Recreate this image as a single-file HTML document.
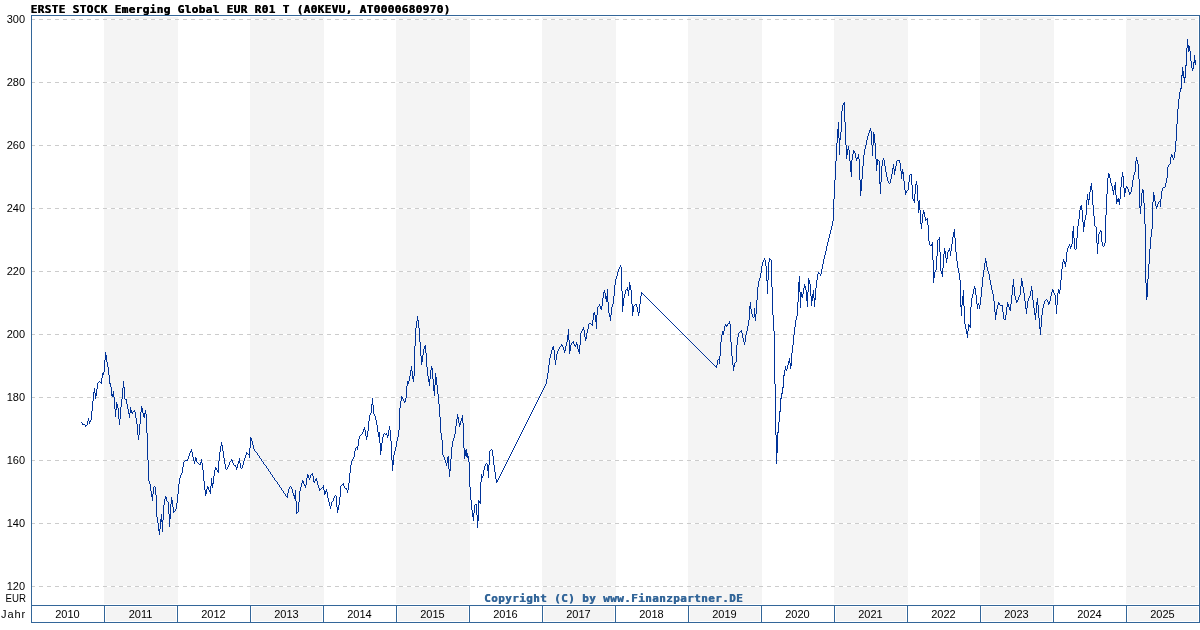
<!DOCTYPE html>
<html lang="de">
<head>
<meta charset="utf-8">
<title>ERSTE STOCK Emerging Global EUR R01 T (A0KEVU, AT0000680970)</title>
<style>
html,body{margin:0;padding:0;background:#fff;}
body{width:1200px;height:630px;overflow:hidden;position:relative;}
svg{position:absolute;left:0;top:0;display:block;}
.t{position:absolute;margin:0;white-space:pre;font-family:"DejaVu Sans Mono","Liberation Mono",monospace;font-weight:bold;font-size:11px;line-height:14px;height:14px;letter-spacing:0.3774px;text-shadow:0.4px 0 0 currentColor;}
.a{position:absolute;margin:0;white-space:pre;font-family:"Liberation Sans","DejaVu Sans",sans-serif;font-size:11px;line-height:12px;height:12px;color:#000;}
.y{left:0;width:25px;text-align:right;}
.x{width:73px;text-align:center;top:608px;}
</style>
</head>
<body>
<svg width="1200" height="630" viewBox="0 0 1200 630">
<rect x="0" y="0" width="1200" height="630" fill="#ffffff"/>
<g shape-rendering="crispEdges">
<rect x="104" y="17" width="74" height="587" fill="#f4f4f4"/>
<rect x="106" y="607" width="70" height="14" fill="#f4f4f4"/>
<rect x="250" y="17" width="74" height="587" fill="#f4f4f4"/>
<rect x="252" y="607" width="70" height="14" fill="#f4f4f4"/>
<rect x="396" y="17" width="74" height="587" fill="#f4f4f4"/>
<rect x="398" y="607" width="70" height="14" fill="#f4f4f4"/>
<rect x="542" y="17" width="74" height="587" fill="#f4f4f4"/>
<rect x="544" y="607" width="70" height="14" fill="#f4f4f4"/>
<rect x="688" y="17" width="74" height="587" fill="#f4f4f4"/>
<rect x="690" y="607" width="70" height="14" fill="#f4f4f4"/>
<rect x="834" y="17" width="74" height="587" fill="#f4f4f4"/>
<rect x="836" y="607" width="70" height="14" fill="#f4f4f4"/>
<rect x="980" y="17" width="74" height="587" fill="#f4f4f4"/>
<rect x="982" y="607" width="70" height="14" fill="#f4f4f4"/>
<rect x="1126" y="17" width="72" height="587" fill="#f4f4f4"/>
<rect x="1128" y="607" width="70" height="14" fill="#f4f4f4"/>
<line x1="31" y1="19.5" x2="1199" y2="19.5" stroke="#ffffff" stroke-width="1"/>
<line x1="31" y1="19.5" x2="1199" y2="19.5" stroke="#cccccc" stroke-width="1" stroke-dasharray="4 4"/>
<line x1="31" y1="82.5" x2="1199" y2="82.5" stroke="#ffffff" stroke-width="1"/>
<line x1="31" y1="82.5" x2="1199" y2="82.5" stroke="#cccccc" stroke-width="1" stroke-dasharray="4 4"/>
<line x1="31" y1="145.5" x2="1199" y2="145.5" stroke="#ffffff" stroke-width="1"/>
<line x1="31" y1="145.5" x2="1199" y2="145.5" stroke="#cccccc" stroke-width="1" stroke-dasharray="4 4"/>
<line x1="31" y1="208.5" x2="1199" y2="208.5" stroke="#ffffff" stroke-width="1"/>
<line x1="31" y1="208.5" x2="1199" y2="208.5" stroke="#cccccc" stroke-width="1" stroke-dasharray="4 4"/>
<line x1="31" y1="271.5" x2="1199" y2="271.5" stroke="#ffffff" stroke-width="1"/>
<line x1="31" y1="271.5" x2="1199" y2="271.5" stroke="#cccccc" stroke-width="1" stroke-dasharray="4 4"/>
<line x1="31" y1="334.5" x2="1199" y2="334.5" stroke="#ffffff" stroke-width="1"/>
<line x1="31" y1="334.5" x2="1199" y2="334.5" stroke="#cccccc" stroke-width="1" stroke-dasharray="4 4"/>
<line x1="31" y1="397.5" x2="1199" y2="397.5" stroke="#ffffff" stroke-width="1"/>
<line x1="31" y1="397.5" x2="1199" y2="397.5" stroke="#cccccc" stroke-width="1" stroke-dasharray="4 4"/>
<line x1="31" y1="460.5" x2="1199" y2="460.5" stroke="#ffffff" stroke-width="1"/>
<line x1="31" y1="460.5" x2="1199" y2="460.5" stroke="#cccccc" stroke-width="1" stroke-dasharray="4 4"/>
<line x1="31" y1="523.5" x2="1199" y2="523.5" stroke="#ffffff" stroke-width="1"/>
<line x1="31" y1="523.5" x2="1199" y2="523.5" stroke="#cccccc" stroke-width="1" stroke-dasharray="4 4"/>
<line x1="31" y1="586.5" x2="1199" y2="586.5" stroke="#ffffff" stroke-width="1"/>
<line x1="31" y1="586.5" x2="1199" y2="586.5" stroke="#cccccc" stroke-width="1" stroke-dasharray="4 4"/>
<rect x="31.5" y="15.5" width="1168" height="590" fill="none" stroke="#336699" stroke-width="1"/>
<rect x="31.5" y="605.5" width="1168" height="17" fill="none" stroke="#336699" stroke-width="1"/>
<line x1="104.5" y1="605" x2="104.5" y2="623" stroke="#336699" stroke-width="1"/>
<line x1="177.5" y1="605" x2="177.5" y2="623" stroke="#336699" stroke-width="1"/>
<line x1="250.5" y1="605" x2="250.5" y2="623" stroke="#336699" stroke-width="1"/>
<line x1="323.5" y1="605" x2="323.5" y2="623" stroke="#336699" stroke-width="1"/>
<line x1="396.5" y1="605" x2="396.5" y2="623" stroke="#336699" stroke-width="1"/>
<line x1="469.5" y1="605" x2="469.5" y2="623" stroke="#336699" stroke-width="1"/>
<line x1="542.5" y1="605" x2="542.5" y2="623" stroke="#336699" stroke-width="1"/>
<line x1="615.5" y1="605" x2="615.5" y2="623" stroke="#336699" stroke-width="1"/>
<line x1="688.5" y1="605" x2="688.5" y2="623" stroke="#336699" stroke-width="1"/>
<line x1="761.5" y1="605" x2="761.5" y2="623" stroke="#336699" stroke-width="1"/>
<line x1="834.5" y1="605" x2="834.5" y2="623" stroke="#336699" stroke-width="1"/>
<line x1="907.5" y1="605" x2="907.5" y2="623" stroke="#336699" stroke-width="1"/>
<line x1="980.5" y1="605" x2="980.5" y2="623" stroke="#336699" stroke-width="1"/>
<line x1="1053.5" y1="605" x2="1053.5" y2="623" stroke="#336699" stroke-width="1"/>
<line x1="1126.5" y1="605" x2="1126.5" y2="623" stroke="#336699" stroke-width="1"/>
</g>
<path d="M81 422h1v1h-1zM82 423h1v2h-1zM83 424h1v1h-1zM84 424h1v1h-1zM85 425h1v2h-1zM86 425h1v1h-1zM87 421h1v4h-1zM88 418h1v3h-1zM89 421h1v3h-1zM90 420h1v2h-1zM91 411h1v9h-1zM92 401h1v10h-1zM93 392h1v9h-1zM94 388h1v5h-1zM95 393h1v6h-1zM96 389h1v7h-1zM97 383h1v6h-1zM98 382h1v1h-1zM99 381h1v1h-1zM100 382h1v1h-1zM101 378h1v6h-1zM102 373h1v5h-1zM103 372h1v3h-1zM104 360h1v12h-1zM105 352h1v8h-1zM106 355h1v7h-1zM107 362h1v5h-1zM108 367h1v8h-1zM109 375h1v9h-1zM110 383h1v4h-1zM111 387h1v9h-1zM112 394h1v3h-1zM113 391h1v6h-1zM114 397h1v12h-1zM115 409h1v8h-1zM116 402h1v8h-1zM117 404h1v4h-1zM118 408h1v11h-1zM119 419h1v6h-1zM120 407h1v12h-1zM121 399h1v8h-1zM122 388h1v11h-1zM123 381h1v7h-1zM124 387h1v12h-1zM125 399h1v1h-1zM126 399h1v5h-1zM127 404h1v5h-1zM128 409h1v5h-1zM129 413h1v5h-1zM130 407h1v6h-1zM131 410h1v3h-1zM132 412h1v2h-1zM133 411h1v1h-1zM134 410h1v2h-1zM135 412h1v6h-1zM136 418h1v6h-1zM137 424h1v11h-1zM138 435h1v5h-1zM139 424h1v11h-1zM140 412h1v12h-1zM141 406h1v6h-1zM142 408h1v5h-1zM143 413h1v4h-1zM144 413h1v5h-1zM145 410h1v4h-1zM146 414h1v19h-1zM147 433h1v27h-1zM148 460h1v21h-1zM149 481h1v3h-1zM150 484h1v7h-1zM151 491h1v6h-1zM152 494h1v7h-1zM153 487h1v7h-1zM154 486h1v1h-1zM155 487h1v8h-1zM156 495h1v22h-1zM157 517h1v6h-1zM158 523h1v8h-1zM159 529h1v6h-1zM160 519h1v10h-1zM161 514h1v8h-1zM162 520h1v12h-1zM163 505h1v15h-1zM164 499h1v6h-1zM165 496h1v3h-1zM166 497h1v4h-1zM167 501h1v1h-1zM168 502h1v12h-1zM169 514h1v13h-1zM170 504h1v15h-1zM171 497h1v7h-1zM172 500h1v7h-1zM173 507h1v6h-1zM174 511h1v1h-1zM175 509h1v2h-1zM176 503h1v6h-1zM177 494h1v9h-1zM178 484h1v10h-1zM179 478h1v6h-1zM180 475h1v3h-1zM181 473h1v2h-1zM182 467h1v6h-1zM183 462h1v5h-1zM184 461h1v1h-1zM185 460h1v1h-1zM186 460h1v1h-1zM187 459h1v2h-1zM188 456h1v3h-1zM189 453h1v3h-1zM190 451h1v2h-1zM191 449h1v3h-1zM192 452h1v5h-1zM193 457h1v4h-1zM194 461h1v3h-1zM195 457h1v4h-1zM196 458h1v4h-1zM197 462h1v1h-1zM198 463h1v1h-1zM199 464h1v1h-1zM200 462h1v3h-1zM201 459h1v4h-1zM202 463h1v7h-1zM203 470h1v11h-1zM204 481h1v9h-1zM205 490h1v6h-1zM206 489h1v5h-1zM207 486h1v3h-1zM208 487h1v3h-1zM209 490h1v2h-1zM210 486h1v8h-1zM211 478h1v8h-1zM212 483h1v5h-1zM213 476h1v8h-1zM214 470h1v6h-1zM215 467h1v3h-1zM216 468h1v2h-1zM217 470h1v2h-1zM218 461h1v12h-1zM219 452h1v9h-1zM220 446h1v6h-1zM221 442h1v4h-1zM222 445h1v6h-1zM223 451h1v7h-1zM224 458h1v6h-1zM225 464h1v5h-1zM226 469h1v1h-1zM227 467h1v2h-1zM228 465h1v2h-1zM229 462h1v3h-1zM230 461h1v1h-1zM231 459h1v2h-1zM232 460h1v3h-1zM233 463h1v2h-1zM234 465h1v1h-1zM235 465h1v2h-1zM236 467h1v3h-1zM237 464h1v4h-1zM238 461h1v3h-1zM239 458h1v5h-1zM240 463h1v5h-1zM241 468h1v1h-1zM242 465h1v3h-1zM243 461h1v4h-1zM244 458h1v3h-1zM245 455h1v3h-1zM246 452h1v3h-1zM247 453h1v1h-1zM248 454h1v1h-1zM249 448h1v10h-1zM250 437h1v11h-1zM251 438h1v3h-1zM252 441h1v4h-1zM253 445h1v4h-1zM254 449h1v2h-1zM255 451h1v1h-1zM256 452h1v1h-1zM257 453h1v2h-1zM258 455h1v1h-1zM259 456h1v2h-1zM260 458h1v1h-1zM261 459h1v2h-1zM262 461h1v1h-1zM263 462h1v2h-1zM264 464h1v1h-1zM265 465h1v1h-1zM266 466h1v2h-1zM267 468h1v1h-1zM268 469h1v2h-1zM269 471h1v1h-1zM270 472h1v2h-1zM271 474h1v1h-1zM272 475h1v2h-1zM273 477h1v1h-1zM274 478h1v2h-1zM275 480h1v1h-1zM276 481h1v1h-1zM277 482h1v2h-1zM278 484h1v1h-1zM279 485h1v2h-1zM280 487h1v1h-1zM281 488h1v2h-1zM282 490h1v1h-1zM283 491h1v2h-1zM284 493h1v1h-1zM285 494h1v2h-1zM286 496h1v1h-1zM287 493h1v5h-1zM288 489h1v4h-1zM289 487h1v2h-1zM290 486h1v1h-1zM291 487h1v2h-1zM292 489h1v4h-1zM293 493h1v3h-1zM294 495h1v4h-1zM295 490h1v11h-1zM296 501h1v13h-1zM297 512h1v1h-1zM298 502h1v10h-1zM299 491h1v11h-1zM300 487h1v4h-1zM301 483h1v4h-1zM302 480h1v3h-1zM303 481h1v3h-1zM304 484h1v2h-1zM305 485h1v3h-1zM306 478h1v7h-1zM307 474h1v4h-1zM308 475h1v3h-1zM309 478h1v2h-1zM310 475h1v3h-1zM311 474h1v1h-1zM312 473h1v3h-1zM313 476h1v6h-1zM314 481h1v2h-1zM315 479h1v2h-1zM316 478h1v3h-1zM317 481h1v4h-1zM318 485h1v3h-1zM319 488h1v3h-1zM320 489h1v1h-1zM321 488h1v1h-1zM322 487h1v1h-1zM323 485h1v5h-1zM324 490h1v5h-1zM325 491h1v3h-1zM326 489h1v3h-1zM327 492h1v6h-1zM328 498h1v4h-1zM329 502h1v4h-1zM330 506h1v3h-1zM331 502h1v4h-1zM332 501h1v1h-1zM333 498h1v3h-1zM334 496h1v2h-1zM335 495h1v1h-1zM336 496h1v11h-1zM337 507h1v6h-1zM338 505h1v5h-1zM339 497h1v8h-1zM340 486h1v11h-1zM341 485h1v1h-1zM342 484h1v1h-1zM343 483h1v3h-1zM344 486h1v2h-1zM345 488h1v1h-1zM346 488h1v2h-1zM347 490h1v3h-1zM348 483h1v7h-1zM349 473h1v10h-1zM350 465h1v8h-1zM351 461h1v4h-1zM352 459h1v2h-1zM353 457h1v2h-1zM354 451h1v6h-1zM355 448h1v3h-1zM356 447h1v1h-1zM357 446h1v4h-1zM358 439h1v7h-1zM359 436h1v3h-1zM360 435h1v1h-1zM361 434h1v1h-1zM362 432h1v2h-1zM363 429h1v3h-1zM364 427h1v3h-1zM365 430h1v6h-1zM366 436h1v4h-1zM367 431h1v6h-1zM368 421h1v10h-1zM369 415h1v6h-1zM370 413h1v2h-1zM371 404h1v9h-1zM372 398h1v7h-1zM373 405h1v9h-1zM374 414h1v2h-1zM375 416h1v4h-1zM376 420h1v5h-1zM377 425h1v7h-1zM378 432h1v5h-1zM379 432h1v11h-1zM380 443h1v12h-1zM381 443h1v8h-1zM382 437h1v6h-1zM383 434h1v3h-1zM384 433h1v1h-1zM385 434h1v1h-1zM386 433h1v2h-1zM387 435h1v3h-1zM388 430h1v6h-1zM389 426h1v4h-1zM390 430h1v11h-1zM391 441h1v19h-1zM392 460h1v11h-1zM393 455h1v10h-1zM394 451h1v4h-1zM395 447h1v4h-1zM396 441h1v6h-1zM397 437h1v4h-1zM398 430h1v7h-1zM399 408h1v22h-1zM400 401h1v7h-1zM401 396h1v5h-1zM402 397h1v2h-1zM403 399h1v2h-1zM404 401h1v2h-1zM405 398h1v4h-1zM406 386h1v12h-1zM407 381h1v5h-1zM408 381h1v3h-1zM409 376h1v5h-1zM410 370h1v6h-1zM411 366h1v5h-1zM412 371h1v8h-1zM413 376h1v6h-1zM414 346h1v30h-1zM415 328h1v18h-1zM416 321h1v7h-1zM417 316h1v5h-1zM418 320h1v8h-1zM419 328h1v14h-1zM420 342h1v14h-1zM421 356h1v9h-1zM422 355h1v7h-1zM423 349h1v6h-1zM424 346h1v3h-1zM425 345h1v8h-1zM426 353h1v14h-1zM427 367h1v9h-1zM428 376h1v6h-1zM429 379h1v7h-1zM430 370h1v9h-1zM431 366h1v4h-1zM432 368h1v11h-1zM433 379h1v12h-1zM434 385h1v11h-1zM435 373h1v12h-1zM436 377h1v8h-1zM437 385h1v9h-1zM438 394h1v10h-1zM439 404h1v13h-1zM440 417h1v16h-1zM441 433h1v7h-1zM442 440h1v15h-1zM443 455h1v2h-1zM444 457h1v3h-1zM445 460h1v3h-1zM446 463h1v3h-1zM447 457h1v6h-1zM448 456h1v13h-1zM449 469h1v8h-1zM450 459h1v12h-1zM451 447h1v12h-1zM452 441h1v6h-1zM453 438h1v3h-1zM454 434h1v4h-1zM455 426h1v8h-1zM456 419h1v7h-1zM457 414h1v5h-1zM458 417h1v6h-1zM459 423h1v4h-1zM460 421h1v4h-1zM461 418h1v3h-1zM462 415h1v8h-1zM463 423h1v25h-1zM464 448h1v11h-1zM465 450h1v6h-1zM466 449h1v8h-1zM467 453h1v5h-1zM468 456h1v6h-1zM469 462h1v25h-1zM470 487h1v13h-1zM471 500h1v10h-1zM472 510h1v7h-1zM473 513h1v8h-1zM474 505h1v8h-1zM475 504h1v1h-1zM476 504h1v11h-1zM477 515h1v13h-1zM478 500h1v21h-1zM479 501h1v2h-1zM480 482h1v22h-1zM481 474h1v8h-1zM482 476h1v2h-1zM483 470h1v6h-1zM484 466h1v4h-1zM485 464h1v2h-1zM486 463h1v1h-1zM487 464h1v7h-1zM488 465h1v13h-1zM489 451h1v14h-1zM490 450h1v1h-1zM491 449h1v1h-1zM492 450h1v6h-1zM493 456h1v9h-1zM494 465h1v7h-1zM495 472h1v7h-1zM496 479h1v4h-1zM497 480h1v2h-1zM498 478h1v2h-1zM499 476h1v2h-1zM500 474h1v2h-1zM501 472h1v2h-1zM502 470h1v2h-1zM503 468h1v2h-1zM504 466h1v2h-1zM505 464h1v2h-1zM506 462h1v2h-1zM507 460h1v2h-1zM508 458h1v2h-1zM509 456h1v2h-1zM510 454h1v2h-1zM511 452h1v2h-1zM512 450h1v2h-1zM513 448h1v2h-1zM514 446h1v2h-1zM515 444h1v2h-1zM516 442h1v2h-1zM517 440h1v2h-1zM518 438h1v2h-1zM519 436h1v2h-1zM520 434h1v2h-1zM521 432h1v2h-1zM522 430h1v2h-1zM523 428h1v2h-1zM524 426h1v2h-1zM525 424h1v2h-1zM526 422h1v2h-1zM527 420h1v2h-1zM528 418h1v2h-1zM529 416h1v2h-1zM530 414h1v2h-1zM531 412h1v2h-1zM532 410h1v2h-1zM533 408h1v2h-1zM534 406h1v2h-1zM535 404h1v2h-1zM536 402h1v2h-1zM537 400h1v2h-1zM538 398h1v2h-1zM539 396h1v2h-1zM540 394h1v2h-1zM541 392h1v2h-1zM542 390h1v2h-1zM543 388h1v2h-1zM544 386h1v2h-1zM545 384h1v2h-1zM546 379h1v5h-1zM547 373h1v6h-1zM548 365h1v8h-1zM549 358h1v7h-1zM550 354h1v4h-1zM551 350h1v4h-1zM552 347h1v3h-1zM553 346h1v4h-1zM554 350h1v10h-1zM555 360h1v5h-1zM556 354h1v6h-1zM557 351h1v3h-1zM558 349h1v2h-1zM559 347h1v2h-1zM560 346h1v1h-1zM561 344h1v2h-1zM562 345h1v2h-1zM563 347h1v3h-1zM564 350h1v3h-1zM565 346h1v5h-1zM566 342h1v4h-1zM567 335h1v7h-1zM568 329h1v11h-1zM569 340h1v14h-1zM570 345h1v6h-1zM571 343h1v2h-1zM572 342h1v1h-1zM573 341h1v3h-1zM574 344h1v2h-1zM575 345h1v2h-1zM576 342h1v3h-1zM577 344h1v5h-1zM578 349h1v3h-1zM579 345h1v9h-1zM580 333h1v12h-1zM581 331h1v2h-1zM582 329h1v2h-1zM583 327h1v3h-1zM584 330h1v7h-1zM585 337h1v4h-1zM586 333h1v6h-1zM587 329h1v4h-1zM588 324h1v5h-1zM589 323h1v1h-1zM590 323h1v1h-1zM591 324h1v1h-1zM592 320h1v6h-1zM593 313h1v7h-1zM594 312h1v3h-1zM595 315h1v7h-1zM596 315h1v14h-1zM597 307h1v8h-1zM598 306h1v1h-1zM599 304h1v2h-1zM600 306h1v3h-1zM601 306h1v4h-1zM602 298h1v8h-1zM603 292h1v6h-1zM604 290h1v3h-1zM605 293h1v6h-1zM606 296h1v6h-1zM607 289h1v13h-1zM608 302h1v11h-1zM609 313h1v4h-1zM610 315h1v6h-1zM611 307h1v8h-1zM612 304h1v3h-1zM613 296h1v8h-1zM614 285h1v11h-1zM615 279h1v6h-1zM616 276h1v3h-1zM617 272h1v4h-1zM618 269h1v3h-1zM619 267h1v2h-1zM620 265h1v2h-1zM621 267h1v24h-1zM622 291h1v21h-1zM623 298h1v8h-1zM624 294h1v4h-1zM625 290h1v4h-1zM626 289h1v1h-1zM627 287h1v4h-1zM628 290h1v6h-1zM629 282h1v8h-1zM630 285h1v5h-1zM631 290h1v14h-1zM632 304h1v12h-1zM633 306h1v6h-1zM634 305h1v1h-1zM635 304h1v1h-1zM636 304h1v3h-1zM637 307h1v5h-1zM638 312h1v4h-1zM639 304h1v9h-1zM640 296h1v8h-1zM641 292h1v4h-1zM642 293h1v1h-1zM643 294h1v1h-1zM644 295h1v1h-1zM645 296h1v1h-1zM646 297h1v1h-1zM647 298h1v1h-1zM648 299h1v1h-1zM649 300h1v1h-1zM650 301h1v1h-1zM651 302h1v1h-1zM652 303h1v1h-1zM653 304h1v1h-1zM654 305h1v1h-1zM655 306h1v1h-1zM656 307h1v1h-1zM657 308h1v1h-1zM658 309h1v1h-1zM659 310h1v1h-1zM660 311h1v1h-1zM661 312h1v1h-1zM662 313h1v1h-1zM663 314h1v1h-1zM664 315h1v1h-1zM665 316h1v1h-1zM666 317h1v1h-1zM667 318h1v1h-1zM668 319h1v1h-1zM669 320h1v1h-1zM670 321h1v1h-1zM671 322h1v1h-1zM672 323h1v1h-1zM673 324h1v1h-1zM674 325h1v1h-1zM675 326h1v1h-1zM676 327h1v1h-1zM677 328h1v1h-1zM678 329h1v1h-1zM679 330h1v1h-1zM680 331h1v1h-1zM681 332h1v1h-1zM682 333h1v1h-1zM683 334h1v1h-1zM684 335h1v1h-1zM685 336h1v1h-1zM686 337h1v1h-1zM687 338h1v1h-1zM688 339h1v1h-1zM689 340h1v1h-1zM690 341h1v1h-1zM691 342h1v1h-1zM692 343h1v1h-1zM693 344h1v1h-1zM694 345h1v1h-1zM695 346h1v1h-1zM696 347h1v1h-1zM697 348h1v1h-1zM698 349h1v1h-1zM699 350h1v1h-1zM700 351h1v1h-1zM701 352h1v1h-1zM702 353h1v1h-1zM703 354h1v1h-1zM704 355h1v1h-1zM705 356h1v1h-1zM706 357h1v1h-1zM707 358h1v1h-1zM708 359h1v1h-1zM709 360h1v1h-1zM710 361h1v1h-1zM711 362h1v1h-1zM712 363h1v1h-1zM713 364h1v1h-1zM714 365h1v1h-1zM715 366h1v1h-1zM716 365h1v3h-1zM717 360h1v5h-1zM718 359h1v1h-1zM719 356h1v8h-1zM720 342h1v14h-1zM721 335h1v7h-1zM722 331h1v4h-1zM723 331h1v4h-1zM724 326h1v5h-1zM725 324h1v2h-1zM726 325h1v2h-1zM727 324h1v2h-1zM728 323h1v1h-1zM729 321h1v3h-1zM730 324h1v18h-1zM731 342h1v14h-1zM732 356h1v9h-1zM733 365h1v6h-1zM734 363h1v4h-1zM735 362h1v1h-1zM736 345h1v17h-1zM737 337h1v8h-1zM738 333h1v4h-1zM739 332h1v1h-1zM740 331h1v1h-1zM741 330h1v3h-1zM742 333h1v5h-1zM743 338h1v4h-1zM744 342h1v3h-1zM745 335h1v7h-1zM746 331h1v4h-1zM747 326h1v5h-1zM748 320h1v6h-1zM749 306h1v14h-1zM750 302h1v7h-1zM751 309h1v5h-1zM752 314h1v3h-1zM753 317h1v1h-1zM754 308h1v9h-1zM755 314h1v7h-1zM756 300h1v14h-1zM757 287h1v13h-1zM758 281h1v6h-1zM759 278h1v3h-1zM760 273h1v5h-1zM761 266h1v7h-1zM762 262h1v4h-1zM763 260h1v2h-1zM764 258h1v2h-1zM765 260h1v6h-1zM766 266h1v15h-1zM767 280h1v14h-1zM768 262h1v18h-1zM769 258h1v4h-1zM770 259h1v1h-1zM771 260h1v27h-1zM772 287h1v28h-1zM773 315h1v16h-1zM774 331h1v53h-1zM775 384h1v51h-1zM776 435h1v29h-1zM777 432h1v21h-1zM778 422h1v11h-1zM779 411h1v11h-1zM780 398h1v14h-1zM781 393h1v6h-1zM782 387h1v7h-1zM783 375h1v13h-1zM784 370h1v6h-1zM785 366h1v4h-1zM786 369h1v2h-1zM787 365h1v4h-1zM788 361h1v4h-1zM789 358h1v5h-1zM790 363h1v6h-1zM791 353h1v13h-1zM792 345h1v8h-1zM793 335h1v10h-1zM794 327h1v8h-1zM795 320h1v7h-1zM796 316h1v4h-1zM797 302h1v14h-1zM798 282h1v20h-1zM799 276h1v16h-1zM800 292h1v16h-1zM801 292h1v5h-1zM802 294h1v4h-1zM803 288h1v6h-1zM804 284h1v4h-1zM805 286h1v4h-1zM806 290h1v11h-1zM807 292h1v15h-1zM808 278h1v14h-1zM809 280h1v4h-1zM810 284h1v12h-1zM811 296h1v10h-1zM812 294h1v7h-1zM813 290h1v8h-1zM814 298h1v9h-1zM815 288h1v12h-1zM816 280h1v8h-1zM817 274h1v6h-1zM818 272h1v2h-1zM819 273h1v1h-1zM820 274h1v2h-1zM821 269h1v5h-1zM822 264h1v5h-1zM823 259h1v5h-1zM824 255h1v4h-1zM825 251h1v4h-1zM826 246h1v5h-1zM827 242h1v4h-1zM828 238h1v4h-1zM829 234h1v4h-1zM830 230h1v4h-1zM831 226h1v4h-1zM832 221h1v5h-1zM833 199h1v22h-1zM834 180h1v19h-1zM835 161h1v19h-1zM836 143h1v18h-1zM837 129h1v14h-1zM838 122h1v16h-1zM839 138h1v17h-1zM840 132h1v8h-1zM841 111h1v21h-1zM842 105h1v6h-1zM843 103h1v2h-1zM844 102h1v20h-1zM845 122h1v23h-1zM846 145h1v14h-1zM847 149h1v6h-1zM848 146h1v4h-1zM849 150h1v11h-1zM850 161h1v11h-1zM851 160h1v17h-1zM852 154h1v6h-1zM853 150h1v4h-1zM854 151h1v2h-1zM855 153h1v5h-1zM856 158h1v3h-1zM857 157h1v2h-1zM858 154h1v5h-1zM859 159h1v21h-1zM860 180h1v16h-1zM861 179h1v12h-1zM862 166h1v13h-1zM863 155h1v11h-1zM864 149h1v6h-1zM865 145h1v4h-1zM866 140h1v5h-1zM867 136h1v4h-1zM868 133h1v3h-1zM869 130h1v3h-1zM870 128h1v3h-1zM871 131h1v14h-1zM872 145h1v11h-1zM873 132h1v13h-1zM874 134h1v9h-1zM875 143h1v16h-1zM876 159h1v12h-1zM877 159h1v6h-1zM878 160h1v1h-1zM879 161h1v23h-1zM880 182h1v12h-1zM881 166h1v16h-1zM882 160h1v6h-1zM883 158h1v2h-1zM884 160h1v6h-1zM885 166h1v6h-1zM886 172h1v5h-1zM887 177h1v4h-1zM888 181h1v2h-1zM889 183h1v1h-1zM890 179h1v4h-1zM891 174h1v5h-1zM892 168h1v6h-1zM893 164h1v5h-1zM894 169h1v6h-1zM895 166h1v5h-1zM896 161h1v5h-1zM897 160h1v1h-1zM898 160h1v1h-1zM899 160h1v3h-1zM900 163h1v8h-1zM901 171h1v8h-1zM902 169h1v5h-1zM903 172h1v9h-1zM904 181h1v9h-1zM905 190h1v5h-1zM906 191h1v2h-1zM907 190h1v1h-1zM908 182h1v8h-1zM909 175h1v7h-1zM910 174h1v1h-1zM911 174h1v11h-1zM912 185h1v14h-1zM913 199h1v2h-1zM914 194h1v9h-1zM915 184h1v10h-1zM916 181h1v4h-1zM917 185h1v16h-1zM918 201h1v12h-1zM919 200h1v10h-1zM920 210h1v14h-1zM921 223h1v6h-1zM922 214h1v9h-1zM923 210h1v4h-1zM924 212h1v5h-1zM925 217h1v4h-1zM926 219h1v1h-1zM927 218h1v7h-1zM928 225h1v16h-1zM929 241h1v4h-1zM930 245h1v1h-1zM931 244h1v2h-1zM932 242h1v18h-1zM933 260h1v23h-1zM934 272h1v6h-1zM935 270h1v2h-1zM936 256h1v14h-1zM937 240h1v16h-1zM938 239h1v1h-1zM939 237h1v15h-1zM940 252h1v19h-1zM941 271h1v3h-1zM942 268h1v9h-1zM943 254h1v14h-1zM944 248h1v6h-1zM945 251h1v7h-1zM946 258h1v5h-1zM947 252h1v7h-1zM948 250h1v2h-1zM949 248h1v3h-1zM950 251h1v5h-1zM951 244h1v7h-1zM952 237h1v7h-1zM953 232h1v5h-1zM954 229h1v9h-1zM955 238h1v14h-1zM956 252h1v9h-1zM957 261h1v7h-1zM958 268h1v5h-1zM959 273h1v7h-1zM960 280h1v27h-1zM961 305h1v11h-1zM962 296h1v9h-1zM963 290h1v16h-1zM964 306h1v18h-1zM965 324h1v5h-1zM966 329h1v5h-1zM967 331h1v7h-1zM968 324h1v7h-1zM969 325h1v2h-1zM970 307h1v21h-1zM971 298h1v9h-1zM972 294h1v4h-1zM973 289h1v5h-1zM974 286h1v3h-1zM975 288h1v7h-1zM976 295h1v9h-1zM977 304h1v5h-1zM978 303h1v2h-1zM979 305h1v4h-1zM980 297h1v8h-1zM981 287h1v10h-1zM982 277h1v10h-1zM983 270h1v7h-1zM984 263h1v7h-1zM985 258h1v5h-1zM986 261h1v6h-1zM987 267h1v4h-1zM988 271h1v3h-1zM989 274h1v6h-1zM990 280h1v5h-1zM991 285h1v5h-1zM992 290h1v4h-1zM993 294h1v7h-1zM994 301h1v11h-1zM995 312h1v8h-1zM996 309h1v6h-1zM997 305h1v4h-1zM998 302h1v3h-1zM999 303h1v2h-1zM1000 305h1v1h-1zM1001 305h1v1h-1zM1002 305h1v7h-1zM1003 312h1v7h-1zM1004 319h1v1h-1zM1005 315h1v5h-1zM1006 307h1v8h-1zM1007 302h1v5h-1zM1008 304h1v3h-1zM1009 307h1v3h-1zM1010 304h1v7h-1zM1011 295h1v9h-1zM1012 285h1v10h-1zM1013 279h1v8h-1zM1014 287h1v9h-1zM1015 296h1v4h-1zM1016 300h1v3h-1zM1017 300h1v2h-1zM1018 297h1v3h-1zM1019 295h1v2h-1zM1020 286h1v9h-1zM1021 278h1v8h-1zM1022 281h1v6h-1zM1023 287h1v6h-1zM1024 293h1v8h-1zM1025 301h1v8h-1zM1026 308h1v6h-1zM1027 301h1v7h-1zM1028 298h1v3h-1zM1029 296h1v2h-1zM1030 291h1v5h-1zM1031 286h1v5h-1zM1032 290h1v10h-1zM1033 300h1v8h-1zM1034 308h1v7h-1zM1035 313h1v7h-1zM1036 302h1v11h-1zM1037 298h1v7h-1zM1038 305h1v13h-1zM1039 318h1v11h-1zM1040 327h1v8h-1zM1041 315h1v12h-1zM1042 308h1v7h-1zM1043 304h1v4h-1zM1044 301h1v3h-1zM1045 300h1v1h-1zM1046 299h1v1h-1zM1047 300h1v2h-1zM1048 302h1v3h-1zM1049 301h1v3h-1zM1050 296h1v5h-1zM1051 292h1v4h-1zM1052 289h1v3h-1zM1053 290h1v3h-1zM1054 293h1v2h-1zM1055 295h1v10h-1zM1056 305h1v9h-1zM1057 293h1v12h-1zM1058 289h1v4h-1zM1059 290h1v4h-1zM1060 280h1v10h-1zM1061 269h1v11h-1zM1062 262h1v7h-1zM1063 259h1v3h-1zM1064 261h1v3h-1zM1065 262h1v5h-1zM1066 252h1v10h-1zM1067 248h1v4h-1zM1068 246h1v2h-1zM1069 244h1v2h-1zM1070 246h1v3h-1zM1071 244h1v3h-1zM1072 231h1v13h-1zM1073 226h1v12h-1zM1074 238h1v11h-1zM1075 249h1v1h-1zM1076 238h1v11h-1zM1077 226h1v12h-1zM1078 219h1v7h-1zM1079 210h1v9h-1zM1080 206h1v4h-1zM1081 205h1v5h-1zM1082 210h1v12h-1zM1083 222h1v10h-1zM1084 220h1v7h-1zM1085 215h1v5h-1zM1086 200h1v15h-1zM1087 194h1v6h-1zM1088 199h1v6h-1zM1089 192h1v8h-1zM1090 186h1v6h-1zM1091 183h1v7h-1zM1092 190h1v15h-1zM1093 205h1v11h-1zM1094 216h1v10h-1zM1095 226h1v1h-1zM1096 227h1v16h-1zM1097 243h1v11h-1zM1098 234h1v10h-1zM1099 232h1v2h-1zM1100 230h1v2h-1zM1101 231h1v11h-1zM1102 242h1v4h-1zM1103 246h1v1h-1zM1104 243h1v3h-1zM1105 215h1v28h-1zM1106 194h1v21h-1zM1107 178h1v16h-1zM1108 173h1v5h-1zM1109 174h1v4h-1zM1110 178h1v5h-1zM1111 183h1v3h-1zM1112 186h1v5h-1zM1113 190h1v5h-1zM1114 185h1v5h-1zM1115 182h1v13h-1zM1116 195h1v9h-1zM1117 199h1v3h-1zM1118 198h1v4h-1zM1119 199h1v6h-1zM1120 187h1v12h-1zM1121 177h1v10h-1zM1122 172h1v5h-1zM1123 176h1v12h-1zM1124 188h1v9h-1zM1125 188h1v5h-1zM1126 186h1v2h-1zM1127 187h1v2h-1zM1128 189h1v3h-1zM1129 192h1v3h-1zM1130 192h1v2h-1zM1131 187h1v5h-1zM1132 180h1v7h-1zM1133 175h1v5h-1zM1134 172h1v3h-1zM1135 161h1v11h-1zM1136 157h1v4h-1zM1137 160h1v4h-1zM1138 164h1v15h-1zM1139 179h1v29h-1zM1140 206h1v8h-1zM1141 193h1v13h-1zM1142 189h1v4h-1zM1143 190h1v13h-1zM1144 203h1v21h-1zM1145 224h1v59h-1zM1146 283h1v17h-1zM1147 279h1v18h-1zM1148 264h1v15h-1zM1149 249h1v15h-1zM1150 237h1v12h-1zM1151 229h1v8h-1zM1152 202h1v27h-1zM1153 192h1v10h-1zM1154 195h1v6h-1zM1155 201h1v5h-1zM1156 206h1v3h-1zM1157 204h1v3h-1zM1158 202h1v2h-1zM1159 201h1v1h-1zM1160 199h1v8h-1zM1161 191h1v8h-1zM1162 188h1v3h-1zM1163 187h1v1h-1zM1164 187h1v1h-1zM1165 183h1v4h-1zM1166 178h1v5h-1zM1167 167h1v11h-1zM1168 165h1v2h-1zM1169 164h1v1h-1zM1170 157h1v7h-1zM1171 154h1v3h-1zM1172 155h1v3h-1zM1173 158h1v2h-1zM1174 152h1v6h-1zM1175 141h1v11h-1zM1176 124h1v17h-1zM1177 109h1v15h-1zM1178 99h1v10h-1zM1179 92h1v7h-1zM1180 88h1v4h-1zM1181 75h1v14h-1zM1182 67h1v9h-1zM1183 71h1v7h-1zM1184 77h1v6h-1zM1185 65h1v13h-1zM1186 48h1v18h-1zM1187 39h1v9h-1zM1188 45h1v7h-1zM1189 46h1v5h-1zM1190 51h1v10h-1zM1191 61h1v7h-1zM1192 68h1v3h-1zM1193 62h1v7h-1zM1194 55h1v8h-1zM1195 60h1v5h-1z" fill="#003399" shape-rendering="crispEdges"/>
</svg>
<div class="t" style="left:30.6px;top:3px;color:#000">ERSTE STOCK Emerging Global EUR R01 T (A0KEVU, AT0000680970)</div>
<div class="t" style="left:484px;top:592px;color:#336699">Copyright (C) by www.Finanzpartner.DE</div>
<div class="a y" style="top:13px">300</div>
<div class="a y" style="top:76px">280</div>
<div class="a y" style="top:139px">260</div>
<div class="a y" style="top:202px">240</div>
<div class="a y" style="top:265px">220</div>
<div class="a y" style="top:328px">200</div>
<div class="a y" style="top:391px">180</div>
<div class="a y" style="top:454px">160</div>
<div class="a y" style="top:517px">140</div>
<div class="a y" style="top:580px">120</div>
<div class="a y" style="top:592px;left:1px;transform:scaleX(0.88);transform-origin:100% 50%">EUR</div>
<div class="a y" style="top:608px;letter-spacing:0.9px;width:26px">Jahr</div>
<div class="a x" style="left:31px">2010</div>
<div class="a x" style="left:104px">2011</div>
<div class="a x" style="left:177px">2012</div>
<div class="a x" style="left:250px">2013</div>
<div class="a x" style="left:323px">2014</div>
<div class="a x" style="left:396px">2015</div>
<div class="a x" style="left:469px">2016</div>
<div class="a x" style="left:542px">2017</div>
<div class="a x" style="left:615px">2018</div>
<div class="a x" style="left:688px">2019</div>
<div class="a x" style="left:761px">2020</div>
<div class="a x" style="left:834px">2021</div>
<div class="a x" style="left:907px">2022</div>
<div class="a x" style="left:980px">2023</div>
<div class="a x" style="left:1053px">2024</div>
<div class="a x" style="left:1126px">2025</div>
</body>
</html>
